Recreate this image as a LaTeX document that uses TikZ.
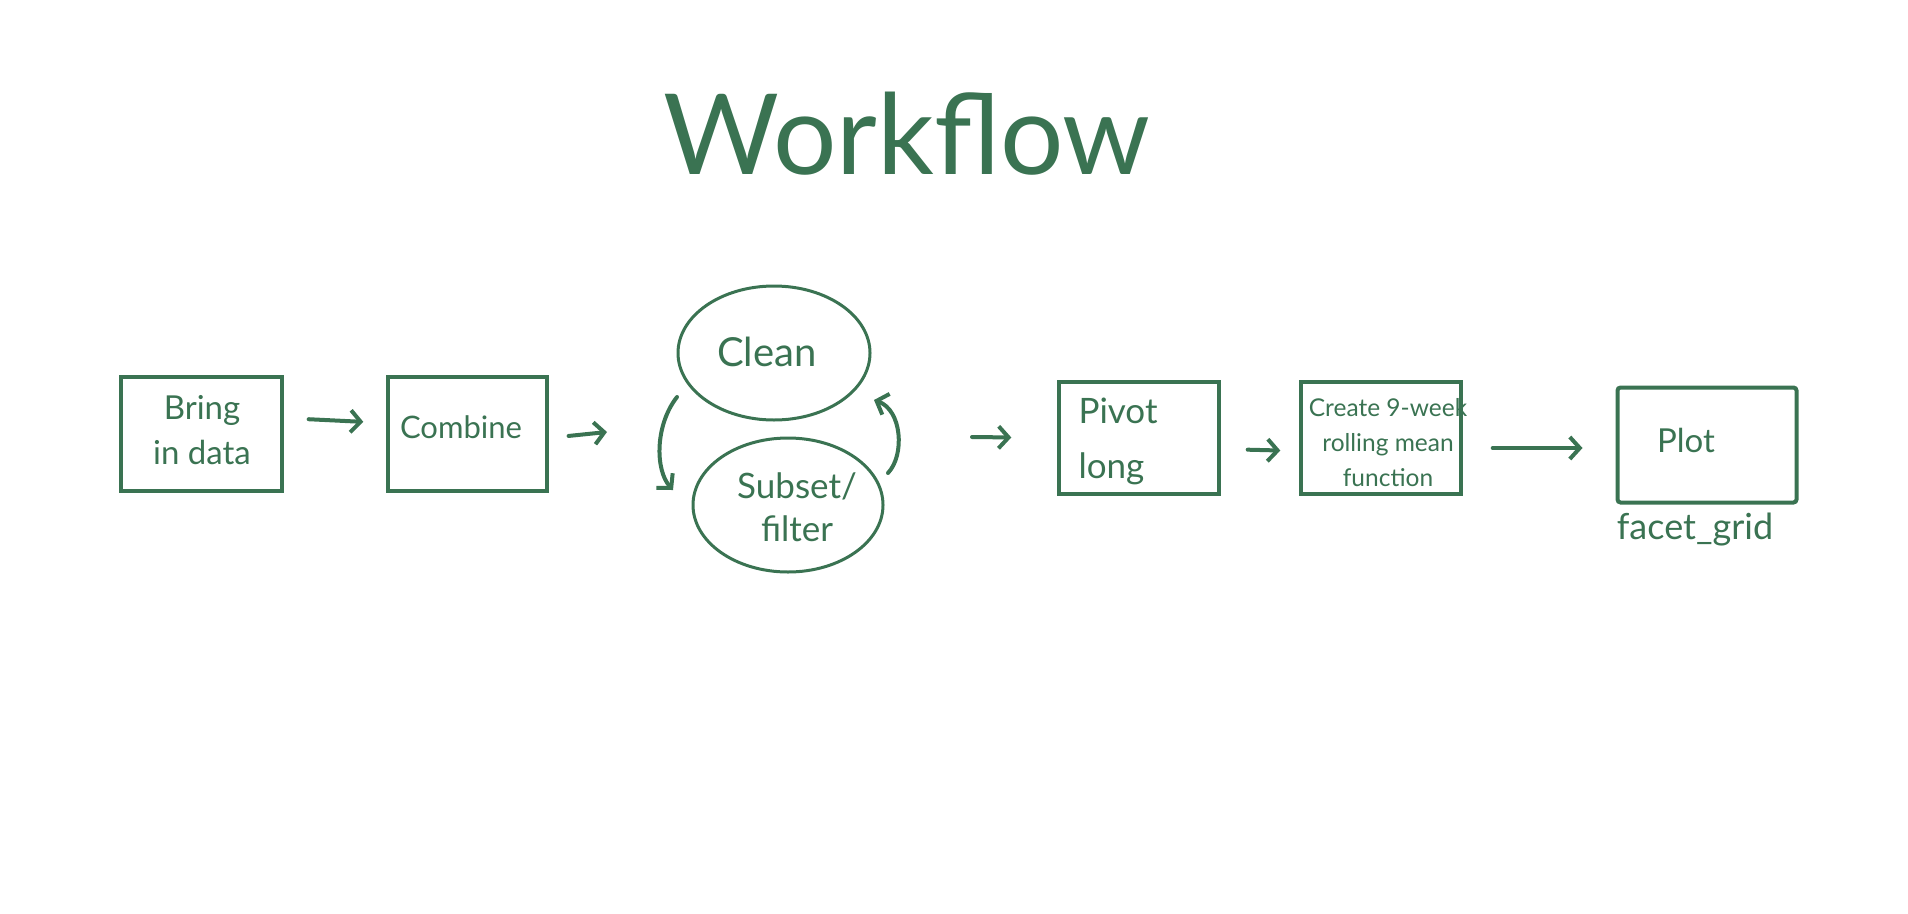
\documentclass[tikz,border=0pt]{standalone}
\usepackage{fontspec}
\setmainfont{Lato}
\usetikzlibrary{arrows.meta,shapes.geometric}
\definecolor{ink}{RGB}{58,115,82}
\begin{document}
\begin{tikzpicture}[x=1pt,y=-1pt,
  every node/.style={text=ink},
  box/.style={draw=ink,line width=3.4pt,rectangle,inner sep=0pt},
  oval/.style={draw=ink,line width=3pt,ellipse,inner sep=0pt},
  lbl/.style={font=\fontsize{33}{45}\selectfont,align=center},
  arr/.style={draw=ink,line width=4pt,line cap=round,line join=round,
    -{Straight Barb[length=10pt,width=22pt,line width=4pt]}},
]
\useasboundingbox (0,0) rectangle (1908,913);

% title
\node[font=\fontsize{112}{120}\selectfont] (title) at (907,134) {Workflow};

% boxes
\node[box,minimum width=161pt,minimum height=114pt] (bring) at (201.5,434) {};
\node[lbl] (bringtxt) at (202,430) {Bring\\in data};
\node[box,minimum width=159pt,minimum height=114pt] (combine) at (467.5,434) {};
\node[lbl,font=\fontsize{31}{40}\selectfont] (combinetxt) at (461,427) {Combine};
\node[oval,minimum width=192pt,minimum height=134pt] (clean) at (774,353) {};
\node[lbl,font=\fontsize{40}{48}\selectfont] (cleantxt) at (767,352) {Clean};
\node[oval,minimum width=190pt,minimum height=134pt] (subset) at (788,505) {};
\node[lbl,font=\fontsize{35}{43}\selectfont] (subsettxt) at (797,507) {Subset/\\filter};
\node[box,minimum width=160pt,minimum height=112pt] (pivot) at (1139,438) {};
\node[lbl,align=left,anchor=west,font=\fontsize{35}{55}\selectfont] (pivottxt) at (1075,441) {Pivot\\long};
\node[box,minimum width=160pt,minimum height=112pt] (create) at (1381,438) {};
\node[align=center,font=\fontsize{24.5}{35}\selectfont] (createtxt) at (1388,443) {Create 9-week\\rolling mean\\function};
\node[box,line width=4pt,rounded corners=3pt,minimum width=179pt,minimum height=115pt] (plot) at (1707,445) {};
\node[lbl] (plottxt) at (1686,440) {Plot};
\node[lbl,font=\fontsize{36}{40}\selectfont] (facet) at (1695,530) {facet\_grid};

% connectors
\coordinate (a2end) at (607,432);
\coordinate (a3start) at (972,437);
\coordinate (l1s) at (677,397);
\coordinate (l1e) at (673,490);
\coordinate (l2s) at (888,473);
\coordinate (l2e) at (874,400);

\draw[arr,shorten <=25pt,shorten >=23pt] ([yshift=16pt]bring.east) -- ([yshift=11pt]combine.west);
\draw[arr,shorten <=20pt] ([yshift=-4pt]combine.east) -- (a2end);
\draw[arr,shorten >=46pt] (a3start) -- (pivot.west);
\draw[arr,shorten <=27pt,shorten >=19pt] ([yshift=-11pt]pivot.east) -- ([yshift=-13pt]create.west);
\draw[arr,shorten <=30pt,shorten >=33pt] ([yshift=-10pt]create.east) -- ([yshift=-3pt]plot.west);
\draw[arr] (l1s) .. controls (655,425) and (655,470) .. (l1e);
\draw[arr] (l2s) .. controls (905,455) and (902,410) .. (l2e);
\end{tikzpicture}
\end{document}
